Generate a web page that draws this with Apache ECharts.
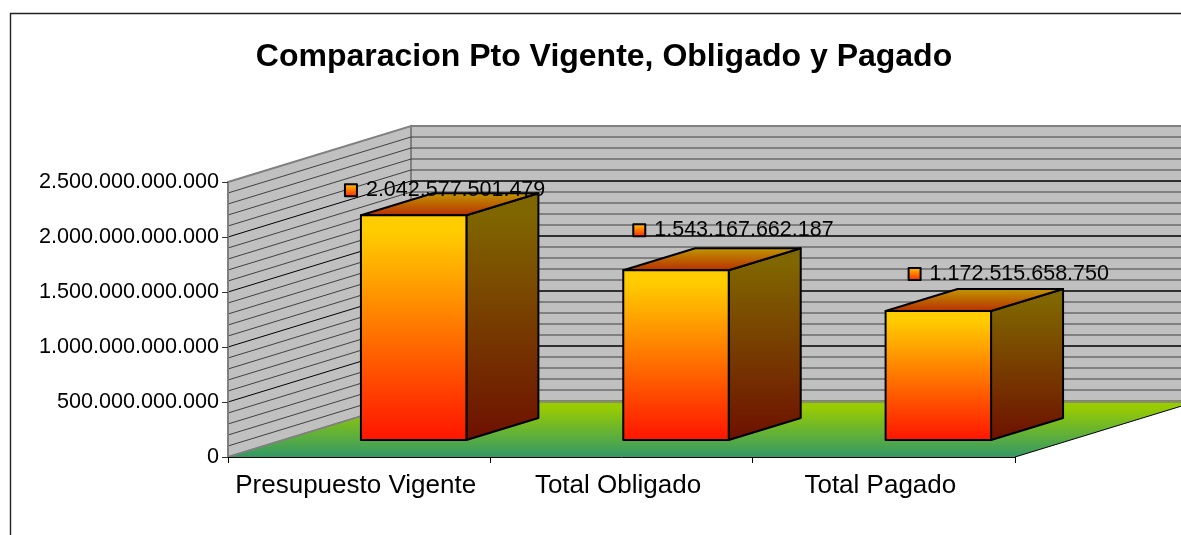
<!DOCTYPE html>
<html>
<head>
<meta charset="utf-8">
<title>Comparacion Pto Vigente, Obligado y Pagado</title>
<script src="https://cdn.jsdelivr.net/npm/echarts@6/dist/echarts.min.js"></script>
<style>
  html, body { margin: 0; padding: 0; background: #ffffff; overflow: hidden; }
  #main { width: 1181px; height: 535px; }
</style>
</head>
<body>
<div id="main"></div>
<script>
const titleText = "Comparacion Pto Vigente, Obligado y Pagado";
const categories = ["Presupuesto Vigente", "Total Obligado", "Total Pagado"];
const values = [2042577501479, 1543167662187, 1172515658750];
const yMax = 2500000000000;
const yMajor = 500000000000;
const yMinor = 100000000000;

// fake 3d projection, pixels
const wallDx = 183, wallDy = -56;
const floorDx = 54.5, floorDy = -17;
const barDx = 72, barDy = -22;
const barRatio = 0.402;
// excel put the labels by hand, offset of the key from the bar's front top-left
const labelShift = [[-10, -25], [16, -40], [29, -37]];

const fontName = '"Liberation Sans", Arial, sans-serif';
const chart = echarts.init(document.getElementById("main"));

function dots(v) {
  return String(v).replace(/\B(?=(\d{3})+(?!\d))/g, ".");
}
function vGrad(a, b, hold) {
  return new echarts.graphic.LinearGradient(0, 0, 0, 1, [
    { offset: 0, color: a },
    { offset: hold || 0, color: a },
    { offset: 1, color: b },
  ]);
}
function poly(points, style) {
  return { type: "polygon", shape: { points: points }, style: style };
}
function line(x1, y1, x2, y2, stroke, w) {
  return {
    type: "line",
    shape: { x1: x1, y1: y1, x2: x2, y2: y2 },
    style: { stroke: stroke, lineWidth: w },
  };
}

// the walls and floor behind the bars
function renderWalls(params, api) {
  const half = api.size([1, 0])[0] / 2;
  const x0 = api.coord([0, 0])[0] - half;
  const x1 = api.coord([categories.length - 1, 0])[0] + half;
  const y0 = api.coord([0, 0])[1];
  const yTop = api.coord([0, yMax])[1];
  const edge = "#808080";
  const kids = [
    poly([[x0, yTop], [x0 + wallDx, yTop + wallDy], [x0 + wallDx, y0 + wallDy], [x0, y0]],
      { fill: "#c0c0c0", stroke: edge, lineWidth: 2 }),
    poly([[x0 + wallDx, yTop + wallDy], [x1 + wallDx, yTop + wallDy], [x1 + wallDx, y0 + wallDy], [x0 + wallDx, y0 + wallDy]],
      { fill: "#c0c0c0", stroke: edge, lineWidth: 2 }),
  ];
  for (let v = yMinor; v < yMax; v += yMinor) {
    const y = api.coord([0, v])[1];
    const major = v % yMajor === 0;
    const c = major ? "#000000" : "#404040";
    kids.push(line(x0, y, x0 + wallDx, y + wallDy, c, 1));
    kids.push(line(x0 + wallDx, y + wallDy, x1 + wallDx, y + wallDy, c, major ? 1.4 : 1.1));
  }
  kids.push(poly([[x0, y0], [x1, y0], [x1 + wallDx, y0 + wallDy], [x0 + wallDx, y0 + wallDy]],
    { fill: vGrad("#99cc00", "#339966", 0.1) }));
  kids.push(line(x0, y0, x0 + wallDx, y0 + wallDy, edge, 1.5));
  kids.push(line(x0 + wallDx, y0 + wallDy + 1, x1 + wallDx, y0 + wallDy + 1, edge, 1.5));
  kids.push(line(x1, y0, x1 + wallDx, y0 + wallDy, "#000000", 1));
  return { type: "group", children: kids };
}

function renderBar(params, api) {
  const i = api.value(0);
  const v = api.value(1);
  const band = api.size([1, 0])[0];
  const c = api.coord([i, v]);
  const w = band * barRatio;
  const left = c[0] + floorDx - w / 2;
  const right = left + w;
  const top = c[1] + floorDy;
  const bottom = api.coord([i, 0])[1] + floorDy;
  const st = { stroke: "#000000", lineWidth: 2, lineJoin: "round" };
  const key = [left + labelShift[i][0], top + labelShift[i][1]];
  return {
    type: "group",
    children: [
      poly([[right, top], [right + barDx, top + barDy], [right + barDx, bottom + barDy], [right, bottom]],
        Object.assign({ fill: vGrad("#806600", "#6e1000", 0.08) }, st)),
      poly([[left, top], [left + barDx, top + barDy], [right + barDx, top + barDy], [right, top]],
        Object.assign({ fill: vGrad("#c09a00", "#b92c00") }, st)),
      poly([[left, top], [right, top], [right, bottom], [left, bottom]],
        Object.assign({ fill: vGrad("#ffcc00", "#ff1400", 0.08) }, st)),
      {
        type: "rect",
        shape: { x: key[0] - 6, y: key[1] - 6, width: 12, height: 12 },
        style: Object.assign({ fill: vGrad("#ffcc00", "#ff2000") }, st),
      },
      {
        type: "text",
        style: {
          text: dots(v),
          x: key[0] + 15,
          y: key[1],
          fill: "#000000",
          font: "21.5px " + fontName,
          textAlign: "left",
          textVerticalAlign: "middle",
        },
      },
    ],
  };
}

const option = {
  backgroundColor: "#ffffff",
  animation: false,
  title: {
    text: titleText,
    left: 599,
    top: 36,
    textAlign: "center",
    textStyle: { color: "#000000", fontFamily: fontName, fontWeight: "bold", fontSize: 32 },
  },
  graphic: [
    {
      type: "polyline",
      shape: { points: [[10.5, 535], [10.5, 13.5], [1181, 13.5]] },
      style: { stroke: "#222222", fill: null, lineWidth: 1.4 },
      z: 0,
    },
  ],
  grid: { left: 228, right: 166, top: 182, bottom: 78, containLabel: false },
  xAxis: {
    type: "category",
    data: categories,
    axisLine: { show: true, lineStyle: { color: "#000000", width: 1 }, onZero: false },
    axisTick: { show: true, length: 6, alignWithLabel: false, lineStyle: { color: "#000000" } },
    axisLabel: {
      color: "#000000",
      fontFamily: fontName,
      fontSize: 26,
      margin: 16,
      interval: 0,
      padding: [0, 7, 0, 0],
    },
    z: 6,
  },
  yAxis: {
    type: "value",
    min: 0,
    max: yMax,
    interval: yMajor,
    axisLine: { show: true, lineStyle: { color: "#808080", width: 1 } },
    axisTick: { show: true, length: 6, lineStyle: { color: "#333333" } },
    axisLabel: {
      color: "#000000",
      fontFamily: fontName,
      fontSize: 21.6,
      margin: 9,
      formatter: (v) => dots(v),
    },
    splitLine: { show: false },
    z: 6,
  },
  series: [
    {
      type: "custom",
      name: "fondo",
      z: 1,
      silent: true,
      renderItem: renderWalls,
      data: [[0, 0]],
      encode: { x: 0, y: 1 },
    },
    {
      type: "custom",
      name: "Presupuesto",
      z: 3,
      renderItem: renderBar,
      data: values.map((v, i) => [i, v]),
      encode: { x: 0, y: 1 },
    },
  ],
};
chart.setOption(option);
</script>
</body>
</html>
